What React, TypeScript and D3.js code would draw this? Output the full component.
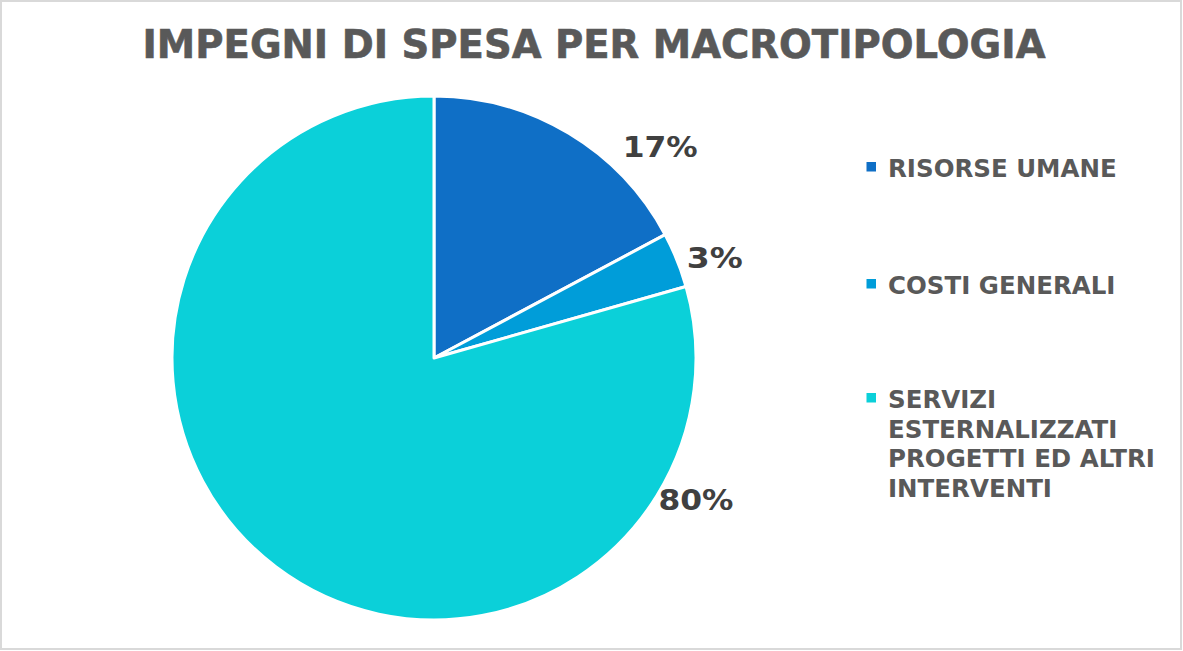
import React from "react";
import * as d3 from "d3";

const categories = ["RISORSE UMANE", "COSTI GENERALI", "SERVIZI ESTERNALIZZATI PROGETTI ED ALTRI INTERVENTI"];
const legendLines = [["RISORSE UMANE"], ["COSTI GENERALI"], ["SERVIZI", "ESTERNALIZZATI", "PROGETTI ED ALTRI", "INTERVENTI"]];
const values = [17.2, 3.4, 79.4];
const percentLabels = ["17%", "3%", "80%"];
const colors = ["#0F6FC6", "#009DD9", "#0BD0D9"];
const labelAngleFrac = [0.76, 0.7, 0.155];
const labelRadius = [309, 298, 298];

export default function App() {
  const W = 1183, H = 651;
  const cx = 434, cy = 358, r = 262;
  const pie = d3.pie<number>().sort(null).value((d) => d)(values);
  const arc = d3.arc<d3.PieArcDatum<number>>().innerRadius(0).outerRadius(r);
  const font = "'DejaVu Sans', Verdana, sans-serif";
  const legendY = [177, 294, 408];
  return (
    <svg width={W} height={H} style={{ position: "absolute", left: 0, top: 0 }}>
      <rect x={1} y={1} width={W - 3} height={H - 3} fill="#fff" stroke="#d9d9d9" strokeWidth={2} />
      <text x={594} y={58} textAnchor="middle" fill="#595959" stroke="#595959" strokeWidth={0.6}
        fontFamily={font} fontWeight="bold" fontSize={38.5}
        textLength={903} lengthAdjust="spacingAndGlyphs">IMPEGNI DI SPESA PER MACROTIPOLOGIA</text>
      <g transform={`translate(${cx},${cy})`}>
        {pie.map((p, i) => (
          <path key={i} d={arc(p) || ""} fill={colors[i]} stroke="#fff" strokeWidth={3} strokeLinejoin="round" />
        ))}
        {pie.map((p, i) => {
          const a = p.startAngle + (p.endAngle - p.startAngle) * labelAngleFrac[i];
          const x = Math.sin(a) * labelRadius[i];
          const y = -Math.cos(a) * labelRadius[i];
          return (
            <text key={"l" + i} x={x} y={y} dy="0.33em" textAnchor="middle" fill="#404040" fontFamily={font}
              fontWeight="bold" fontSize={29} textLength={percentLabels[i].length === 3 ? 75 : 56}
              lengthAdjust="spacingAndGlyphs">{percentLabels[i]}</text>
          );
        })}
      </g>
      {legendLines.map((lines, i) => (
        <g key={"lg" + i}>
          <rect x={866.5} y={legendY[i] - 15} width={9.5} height={9.5} fill={colors[i]} />
          <text fill="#595959" fontFamily={font} fontWeight="bold" fontSize={24.5}>
            {lines.map((ln, j) => (
              <tspan key={j} x={888} y={legendY[i] + j * 29.5}>{ln}</tspan>
            ))}
          </text>
        </g>
      ))}
    </svg>
  );
}
